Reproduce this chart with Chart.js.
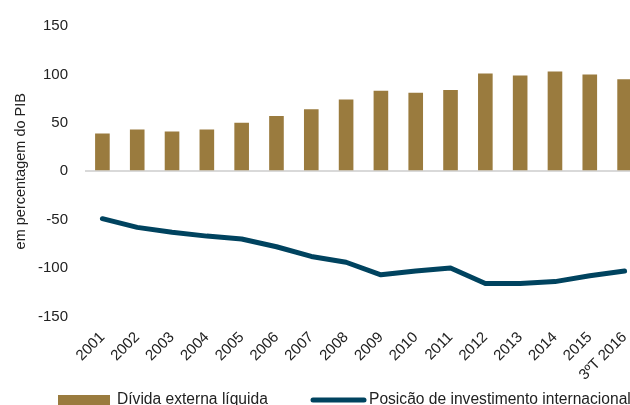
<!DOCTYPE html>
<html>
<head>
<meta charset="utf-8">
<script src="https://cdn.jsdelivr.net/npm/chart.js@4"></script>
<style>
  html, body { margin: 0; padding: 0; background: #fff; overflow: hidden; }
  #chart { display: block; }
</style>
</head>
<body>
<canvas id="chart" width="642" height="418"></canvas>
<script>
const years = ['2001', '2002', '2003', '2004', '2005', '2006', '2007', '2008',
               '2009', '2010', '2011', '2012', '2013', '2014', '2015', '3ºT 2016'];
const dividaExterna = [39, 43, 41, 43, 50, 57, 64, 74, 83, 81, 84, 101, 99, 103, 100, 95];
const posicaoInvestimento = [-49, -58, -63, -67, -70, -78, -88, -94, -107, -103, -100, -116, -116, -114, -108, -103];
const yTicks = [-150, -100, -50, 0, 50, 100, 150];

const font = "'Liberation Sans', Arial, sans-serif";
const gold = '#9a7b3e';
const teal = '#00435f';

// legend drawn by hand: the original has a wide gap between its two entries
const bottomLegend = {
    id: 'bottomLegend',
    afterDraw(chart) {
        const c = chart.ctx;
        const bars = chart.data.datasets[1];
        const line = chart.data.datasets[0];
        const y = 400;
        c.save();
        c.font = '15.6px ' + font;
        c.textBaseline = 'middle';

        c.fillStyle = bars.backgroundColor;
        c.fillRect(58, y - 5, 52, 10);
        c.fillStyle = '#222';
        c.fillText(bars.label, 117, y);

        c.strokeStyle = line.borderColor;
        c.lineWidth = 5;
        c.lineCap = 'round';
        c.beginPath();
        c.moveTo(313, y);
        c.lineTo(364, y);
        c.stroke();
        c.fillText(line.label, 369, y);
        c.restore();
    }
};

const ctx = document.getElementById('chart').getContext('2d');
new Chart(ctx, {
    data: {
        labels: years,
        datasets: [
            {
                type: 'line',
                label: 'Posicão de investimento internacional',
                data: posicaoInvestimento,
                borderColor: teal,
                backgroundColor: teal,
                borderWidth: 5,
                borderCapStyle: 'round',
                borderJoinStyle: 'round',
                pointRadius: 0,
                tension: 0,
                order: 1
            },
            {
                type: 'bar',
                label: 'Dívida externa líquida',
                data: dividaExterna,
                backgroundColor: gold,
                barPercentage: 0.42,
                categoryPercentage: 1,
                order: 2
            }
        ]
    },
    plugins: [bottomLegend],
    options: {
        responsive: false,
        animation: false,
        layout: { padding: { top: 13, left: 0, right: 0, bottom: 30 } },
        plugins: {
            tooltip: { enabled: false },
            legend: { display: false }
        },
        scales: {
            x: {
                grid: { display: false },
                border: { display: false },
                ticks: {
                    font: { family: font, size: 15 },
                    color: '#222',
                    maxRotation: 45,
                    minRotation: 45,
                    autoSkip: false,
                    padding: 4
                }
            },
            y: {
                min: -150,
                max: 150,
                afterBuildTicks: axis => { axis.ticks = yTicks.map(v => ({ value: v })); },
                afterFit: axis => { axis.width = 85; },
                border: { display: false },
                grid: {
                    drawTicks: false,
                    lineWidth: c => c.tick && c.tick.value === 0 ? 2 : 0,
                    color: c => c.tick && c.tick.value === 0 ? '#d9d9d9' : 'rgba(0,0,0,0)'
                },
                ticks: {
                    font: { family: font, size: 15 },
                    color: '#222',
                    padding: 17
                },
                title: {
                    display: true,
                    text: 'em percentagem do PIB',
                    font: { family: font, size: 14.5 },
                    color: '#222',
                    padding: { top: 12, bottom: 0 }
                }
            }
        }
    }
});
</script>
</body>
</html>
